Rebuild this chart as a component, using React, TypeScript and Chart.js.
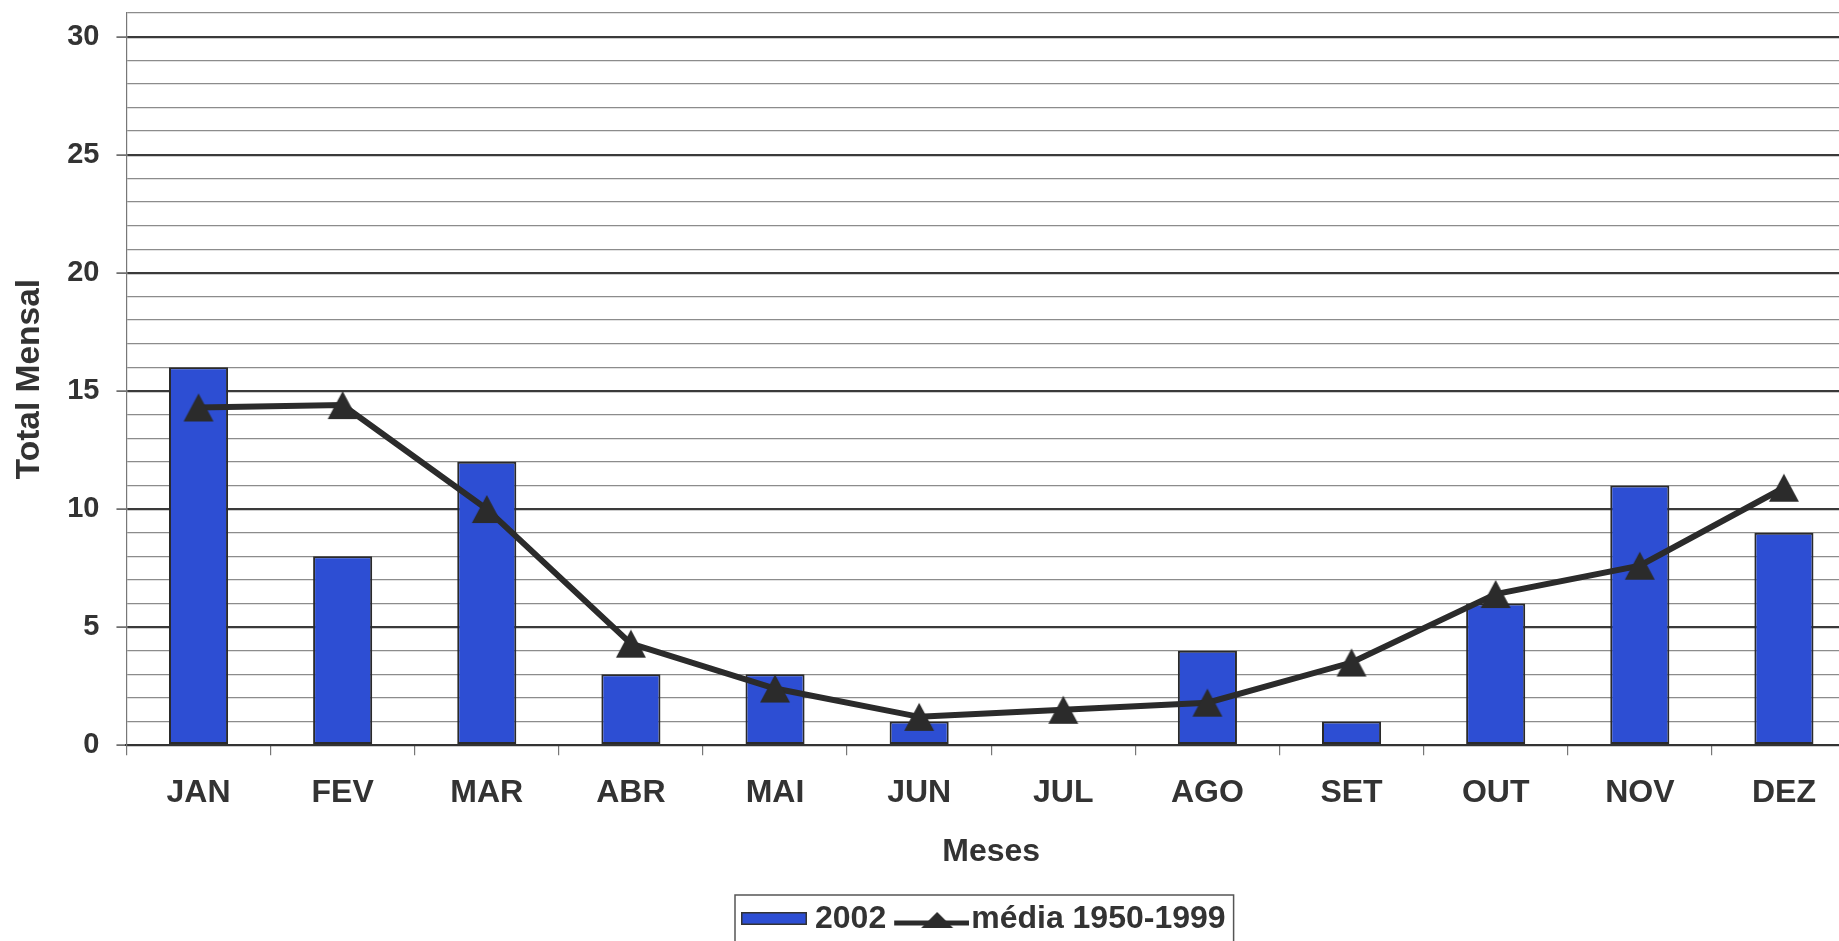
import React, { useEffect, useRef } from 'react';
import { Chart, registerables } from 'chart.js';

Chart.register(...registerables);

const months = ['JAN', 'FEV', 'MAR', 'ABR', 'MAI', 'JUN', 'JUL', 'AGO', 'SET', 'OUT', 'NOV', 'DEZ'];
const values2002 = [16, 8, 12, 3, 3, 1, 0, 4, 1, 6, 11, 9];
const media19501999 = [14.3, 14.4, 10.0, 4.3, 2.4, 1.2, 1.5, 1.8, 3.5, 6.4, 7.6, 10.9];
const yTickLabels = [0, 5, 10, 15, 20, 25, 30];
const yMax = 31;
const seriesNames = ['2002', 'média 1950-1999'];
const axisTitles = { x: 'Meses', y: 'Total Mensal' };

const FONT = "'Liberation Sans', Arial, Helvetica, sans-serif";
const TEXT = '#333333';
const BAR = '#2d4ed3';
const LINE = '#2b2b2b';

export default function App() {
  const ref = useRef<HTMLCanvasElement>(null);

  useEffect(() => {
    const canvas = ref.current;
    if (!canvas) return;

    // point marker: centred triangle
    const tri = document.createElement('canvas');
    tri.width = 32;
    tri.height = 30;
    const tctx = tri.getContext('2d')!;
    tctx.fillStyle = LINE;
    tctx.beginPath();
    tctx.moveTo(16, 1);
    tctx.lineTo(31, 29);
    tctx.lineTo(1, 29);
    tctx.closePath();
    tctx.fill();

    // legend icons
    const barIcon = document.createElement('canvas');
    barIcon.width = 76;
    barIcon.height = 30;
    const bctx = barIcon.getContext('2d')!;
    bctx.fillStyle = BAR;
    bctx.fillRect(10, 8, 66, 13);
    bctx.strokeStyle = '#333';
    bctx.lineWidth = 1.5;
    bctx.strokeRect(10.75, 8.75, 64.5, 11.5);

    const lineIcon = document.createElement('canvas');
    lineIcon.width = 88;
    lineIcon.height = 30;
    const lctx = lineIcon.getContext('2d')!;
    lctx.strokeStyle = LINE;
    lctx.lineWidth = 5;
    lctx.beginPath();
    lctx.moveTo(13, 19);
    lctx.lineTo(88, 19);
    lctx.stroke();
    lctx.fillStyle = LINE;
    lctx.beginPath();
    lctx.moveTo(56, 8);
    lctx.lineTo(72, 24);
    lctx.lineTo(40, 24);
    lctx.closePath();
    lctx.fill();

    const isMajor = (ctx: any) => ctx.tick && yTickLabels.includes(ctx.tick.value);

    const legendFrame = {
      id: 'legendFrame',
      afterLayout(chart: any) {
        const lg = chart.legend;
        if (!lg || !lg.lineWidths) return;
        const pad = 9;
        const curX = (lg.left + pad + lg.right - lg.lineWidths[0]) / 2;
        const shift = 739 - curX;
        lg.left += shift;
        lg.right += shift;
        lg.top += 4;
        lg.bottom += 4;
      },
      afterDraw(chart: any) {
        const lg = chart.legend;
        const hb = lg && lg.legendHitBoxes;
        if (!hb || hb.length < 2) return;
        const c = chart.ctx;
        const left = hb[0].left - 4;
        const right = hb[1].left + hb[1].width + 8;
        const top = lg.top + 1;
        c.save();
        c.strokeStyle = '#555';
        c.lineWidth = 1.5;
        c.strokeRect(left, top, right - left, 80);
        c.restore();
      },
    };

    const chart = new Chart(canvas, {
      type: 'bar',
      data: {
        labels: months,
        datasets: [
          {
            type: 'bar',
            label: seriesNames[0],
            data: values2002,
            backgroundColor: BAR,
            borderColor: '#2a2a2a',
            borderWidth: 2,
            borderSkipped: false,
            barPercentage: 0.41,
            categoryPercentage: 1,
            order: 1,
          } as any,
          {
            type: 'line',
            label: seriesNames[1],
            data: media19501999,
            borderColor: LINE,
            backgroundColor: LINE,
            borderWidth: 6,
            tension: 0,
            pointStyle: tri,
            pointRadius: 16,
            order: 0,
          } as any,
        ],
      },
      options: {
        responsive: false,
        animation: false,
        layout: { autoPadding: false, padding: { top: 13, left: 0, right: 0, bottom: 0 } },
        plugins: {
          tooltip: { enabled: false },
          legend: {
            position: 'bottom',
            labels: {
              usePointStyle: true,
              pointStyleWidth: 60,
              padding: 9,
              color: TEXT,
              font: { family: FONT, size: 32, weight: 'bold' },
              generateLabels: () => [
                {
                  text: seriesNames[0],
                  pointStyle: barIcon,
                  fillStyle: BAR,
                  strokeStyle: '#333',
                  lineWidth: 0,
                  hidden: false,
                  datasetIndex: 0,
                  fontColor: TEXT,
                } as any,
                {
                  text: seriesNames[1],
                  pointStyle: lineIcon,
                  fillStyle: LINE,
                  strokeStyle: LINE,
                  lineWidth: 0,
                  hidden: false,
                  datasetIndex: 1,
                  fontColor: TEXT,
                } as any,
              ],
            },
          },
        },
        scales: {
          x: {
            offset: true,
            grid: {
              offset: true,
              drawOnChartArea: false,
              drawTicks: true,
              tickLength: 10,
              color: '#777',
              lineWidth: 1.2,
            },
            border: { display: true, color: '#333', width: 2 },
            ticks: {
              autoSkip: false,
              maxRotation: 0,
              padding: 19,
              color: TEXT,
              font: { family: FONT, size: 32, weight: 'bold' },
            },
            title: {
              display: true,
              text: axisTitles.x,
              color: TEXT,
              font: { family: FONT, size: 32, weight: 'bold' },
              padding: { top: 1, bottom: 19 },
            },
          },
          y: {
            min: 0,
            max: yMax,
            afterFit: (scale: any) => {
              scale.paddingTop = 0;
              scale.paddingBottom = 0;
            },
            grid: {
              color: (ctx: any) => (isMajor(ctx) ? '#3a3a3a' : '#8c8c8c'),
              lineWidth: (ctx: any) => (isMajor(ctx) ? 2.2 : 1.2),
              tickLength: 10,
              tickColor: (ctx: any) => (isMajor(ctx) ? '#555' : 'rgba(0,0,0,0)'),
              tickWidth: 1.5,
            },
            border: { display: true, color: '#777', width: 1.2 },
            ticks: {
              stepSize: 1,
              maxTicksLimit: 100,
              autoSkip: false,
              padding: 17,
              color: TEXT,
              font: { family: FONT, size: 29, weight: 'bold' },
              callback: (v: any) => (yTickLabels.includes(Number(v)) ? String(v) : []),
            },
            title: {
              display: true,
              text: axisTitles.y,
              color: TEXT,
              font: { family: FONT, size: 33.5, weight: 'bold' },
              padding: { top: 10, bottom: 0 },
            },
          },
        },
      },
      plugins: [legendFrame],
    } as any);

    return () => chart.destroy();
  }, []);

  return (
    <div
      style={{
        position: 'fixed',
        left: 0,
        top: 0,
        width: 1839,
        height: 941,
        overflow: 'hidden',
        background: '#fff',
      }}
    >
      <canvas ref={ref} width={1856} height={941} style={{ display: 'block' }} />
    </div>
  );
}
